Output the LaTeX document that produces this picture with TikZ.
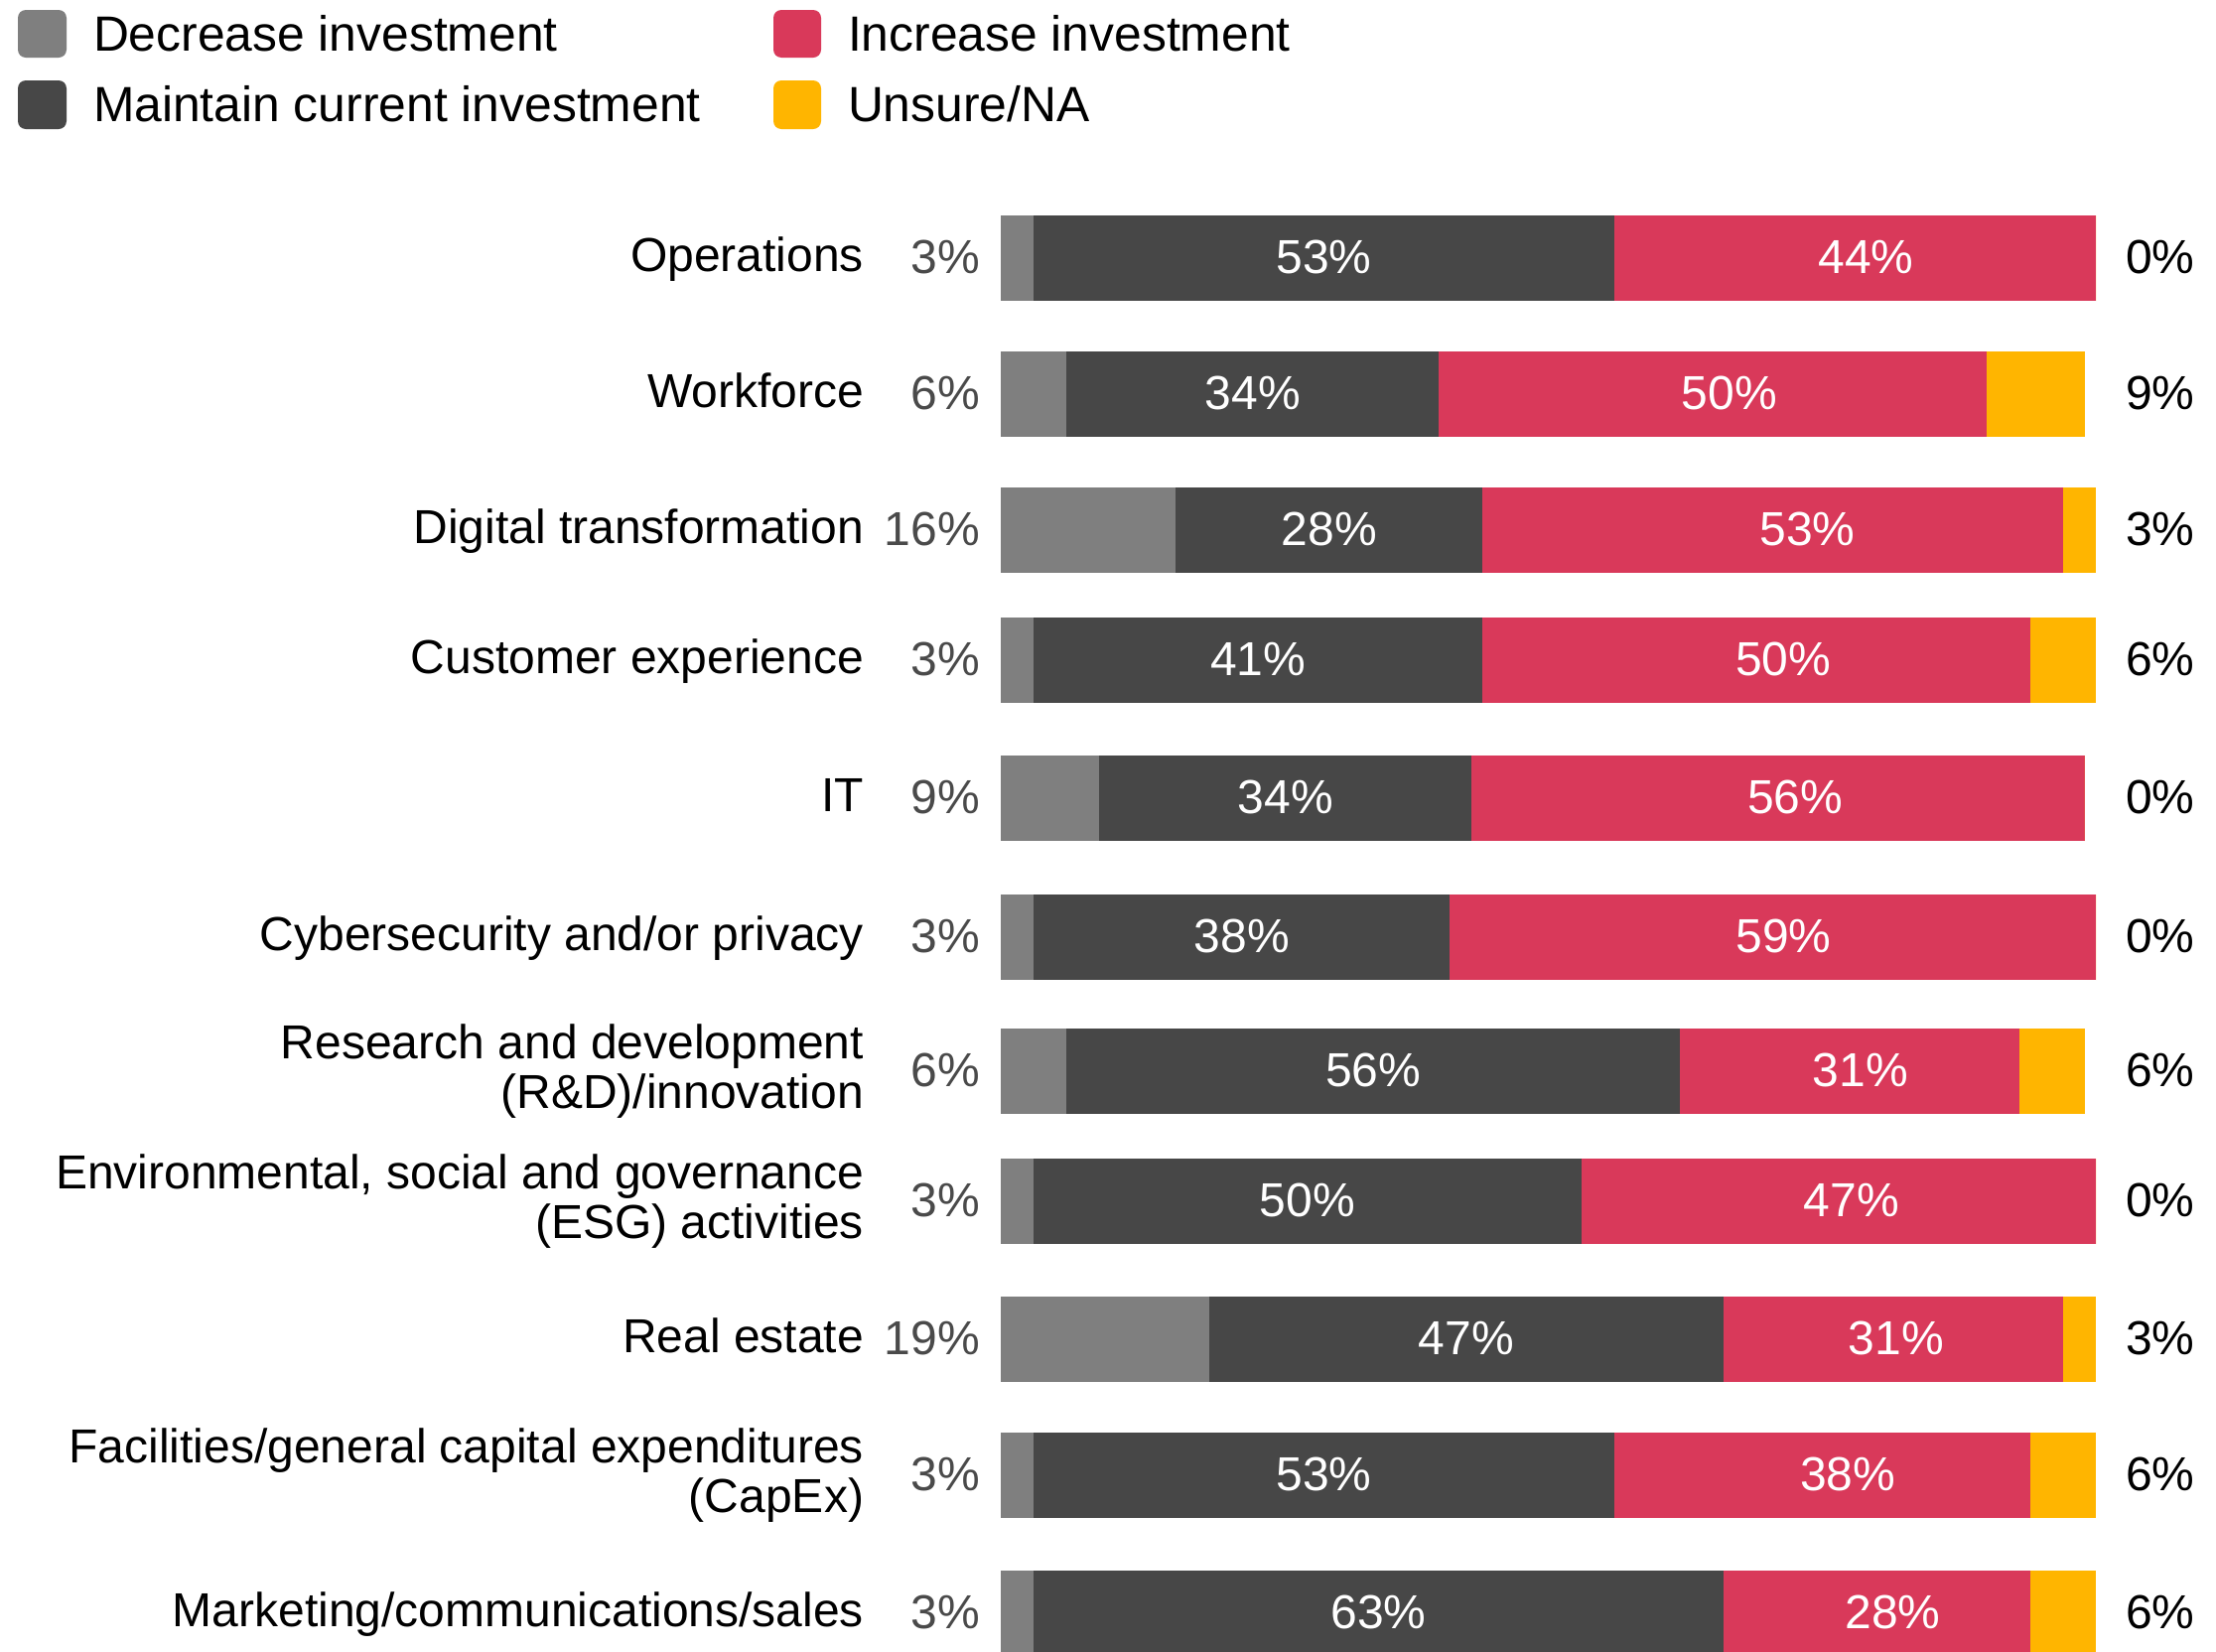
\documentclass[tikz,border=0pt]{standalone}
\usepackage{fontspec}
\setmainfont{Liberation Sans}
\definecolor{cdec}{HTML}{7F7F7F}
\definecolor{cmain}{HTML}{474747}
\definecolor{cinc}{HTML}{D9395A}
\definecolor{cuns}{HTML}{FFB500}
\definecolor{cpct}{HTML}{4A4A4A}
\newcommand{\bx}{1008}
\newcommand{\pu}{11.03}
\newcommand{\chartrow}[7]{% id, top, dec, maint, inc, unsure, offset of inc label
  \pgfmathsetmacro{\segA}{\bx+#3*\pu}%
  \pgfmathsetmacro{\segB}{\segA+#4*\pu}%
  \pgfmathsetmacro{\segC}{\segB+#5*\pu}%
  \pgfmathsetmacro{\segD}{\segC+#6*\pu}%
  \pgfmathsetmacro{\segY}{#2+86}%
  \pgfmathsetmacro{\segT}{#2+43+15}%
  \pgfmathsetmacro{\midM}{(\segA+\segB)/2}%
  \pgfmathsetmacro{\midI}{(\segB+\segC)/2+#7}%
  \fill[cdec] (\bx,#2) rectangle (\segA,\segY);
  \fill[cmain] (\segA,#2) rectangle (\segB,\segY);
  \fill[cinc] (\segB,#2) rectangle (\segC,\segY);
  \fill[cuns] (\segC,#2) rectangle (\segD,\segY);
  \node[inlab] (#1m) at (\midM,\segT) {#4\%};
  \node[inlab] (#1i) at (\midI,\segT) {#5\%};
  \node[leftpct] (#1d) at (987,\segT) {#3\%};
  \node[rightpct] (#1u) at (2141,\segT) {#6\%};
}
\newcommand{\onelabel}[3]{% id, top, text
  \pgfmathsetmacro{\segT}{#2+43+13}%
  \node[catlab] (#1c) at (870,\segT) {#3};
}
\newcommand{\twolabel}[4]{% id, top, line1, line2
  \pgfmathsetmacro{\segT}{#2+43-13}%
  \pgfmathsetmacro{\segU}{#2+43+37}%
  \node[catlab] (#1c) at (870,\segT) {#3};
  \node[catlab] (#1e) at (870,\segU) {#4};
}
\begin{document}
\begin{tikzpicture}[x=1pt,y=-1pt,
  every node/.style={inner sep=0pt, outer sep=0pt},
  inlab/.style={anchor=base, text=white, font=\fontsize{48}{50}\selectfont},
  leftpct/.style={anchor=base east, text=cpct, font=\fontsize{48}{50}\selectfont},
  rightpct/.style={anchor=base west, text=black, font=\fontsize{48}{50}\selectfont},
  catlab/.style={anchor=base east, text=black, font=\fontsize{48}{50}\selectfont},
  legtext/.style={anchor=base west, text=black, font=\fontsize{49.8}{52}\selectfont},
  legbox/.style={rounded corners=8pt}]
\useasboundingbox (0,0) rectangle (2232,1663);
\clip (0,0) rectangle (2232,1663);
\fill[white] (0,0) rectangle (2232,1663);
% legend
\fill[cdec, legbox] (18,10) rectangle (67,58);
\fill[cmain, legbox] (18,81) rectangle (67,130);
\fill[cinc, legbox] (779,10) rectangle (827,58);
\fill[cuns, legbox] (779,81) rectangle (827,130);
\node[legtext] (lgdec) at (94,51) {Decrease investment};
\node[legtext] (lgmain) at (94,122) {Maintain current investment};
\node[legtext] (lginc) at (854,51) {Increase investment};
\node[legtext] (lguns) at (854,122) {Unsure/NA};
% rows
\chartrow{r1}{217}{3}{53}{44}{0}{11}
\onelabel{r1}{217}{Operations}
\chartrow{r2}{354}{6}{34}{50}{9}{17}
\onelabel{r2}{354}{Workforce}
\chartrow{r3}{491}{16}{28}{53}{3}{35}
\onelabel{r3}{491}{Digital transformation}
\chartrow{r4}{622}{3}{41}{50}{6}{27}
\onelabel{r4}{622}{Customer experience}
\chartrow{r5}{761}{9}{34}{56}{0}{17}
\onelabel{r5}{761}{IT}
\chartrow{r6}{901}{3}{38}{59}{0}{11}
\onelabel{r6}{901}{Cybersecurity and/or privacy}
\chartrow{r7}{1036}{6}{56}{31}{6}{11}
\twolabel{r7}{1036}{Research and development}{(R\&D)/innovation}
\chartrow{r8}{1167}{3}{50}{47}{0}{13}
\twolabel{r8}{1167}{Environmental, social and governance}{(ESG) activities}
\chartrow{r9}{1306}{19}{47}{31}{3}{3}
\onelabel{r9}{1306}{Real estate}
\chartrow{r10}{1443}{3}{53}{38}{6}{26}
\twolabel{r10}{1443}{Facilities/general capital expenditures}{(CapEx)}
\chartrow{r11}{1582}{3}{63}{28}{6}{16}
\onelabel{r11}{1582}{Marketing/communications/sales}
\end{tikzpicture}
\end{document}
